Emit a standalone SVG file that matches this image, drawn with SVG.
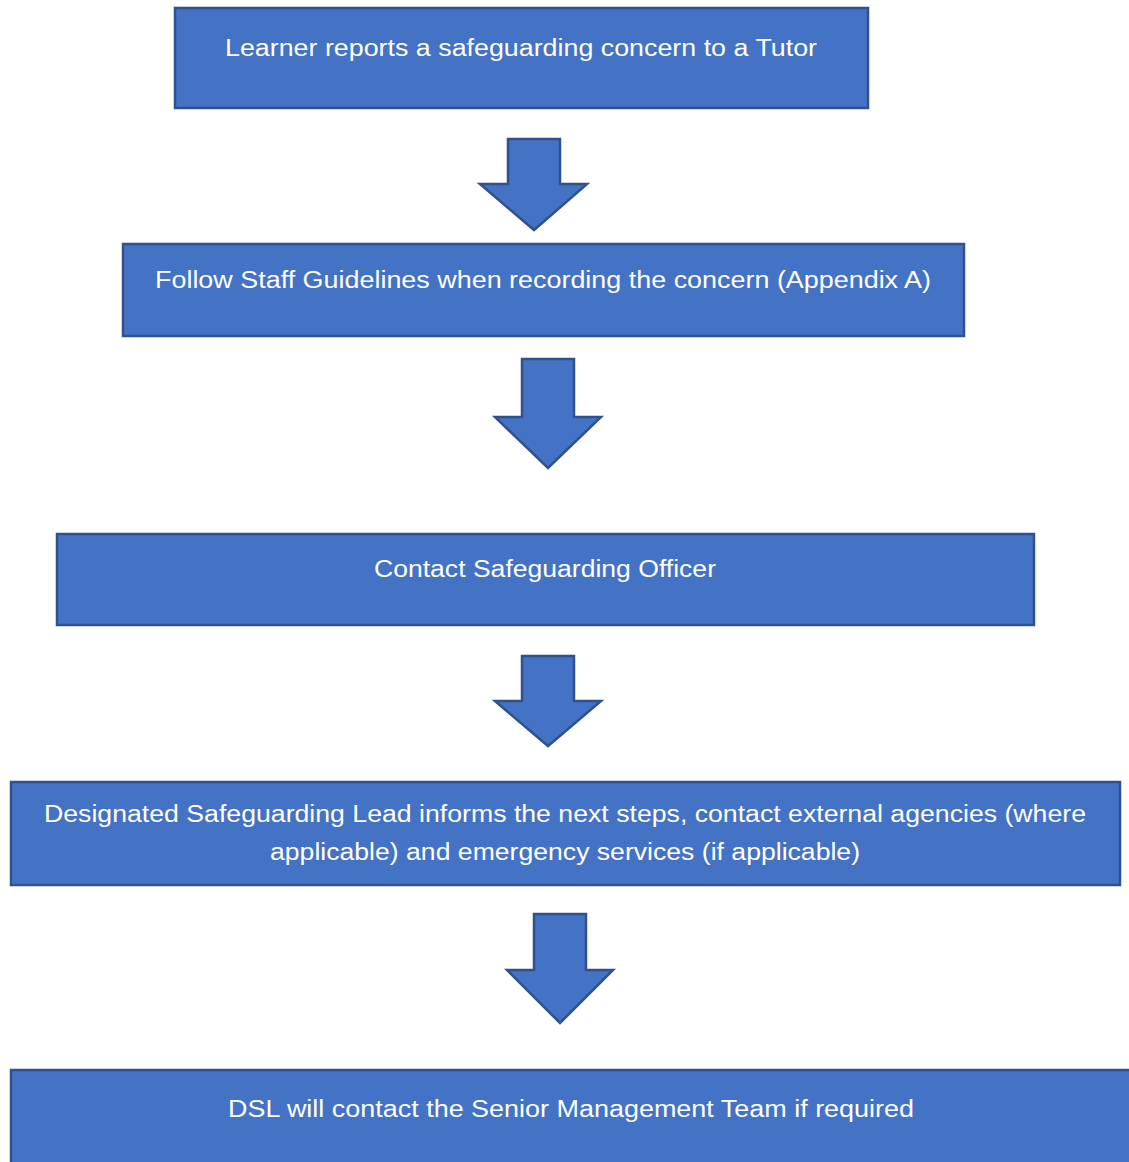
<svg xmlns="http://www.w3.org/2000/svg" width="1129" height="1162" viewBox="0 0 1129 1162">
<style>
.box{fill:#4472C4;stroke:#2F528F;stroke-width:2.5}
.arr{fill:#4472C4;stroke:#2F528F;stroke-width:2.5;stroke-linejoin:miter}
.t{font-family:"Liberation Sans","Noto Sans",sans-serif;font-size:23px;fill:#FFFFFF;text-anchor:middle}
</style>
<rect width="1129" height="1162" fill="#FFFFFF"/>
<g id="connectors">
<polygon class="arr" points="508,139 560,139 560,184 587,184 534,230 480,184 508,184"/>
<polygon class="arr" points="522,359 574,359 574,417 601,417 548,468 495,417 522,417"/>
<polygon class="arr" points="522,656 574,656 574,701 601,701 548,746 495,701 522,701"/>
<polygon class="arr" points="534,914 586,914 586,970 613,970 560,1023 507,970 534,970"/>
</g>
<g id="node1">
<rect class="box" x="175" y="8" width="693" height="100"/>
<text class="t" x="521" y="56" textLength="592" lengthAdjust="spacingAndGlyphs">Learner reports a safeguarding concern to a Tutor</text>
</g>
<g id="node2">
<rect class="box" x="123" y="244" width="841" height="92"/>
<text class="t" x="543" y="288" textLength="776" lengthAdjust="spacingAndGlyphs">Follow Staff Guidelines when recording the concern (Appendix A)</text>
</g>
<g id="node3">
<rect class="box" x="57" y="534" width="977" height="91"/>
<text class="t" x="545" y="577" textLength="342" lengthAdjust="spacingAndGlyphs">Contact Safeguarding Officer</text>
</g>
<g id="node4">
<rect class="box" x="11" y="782" width="1109" height="103"/>
<text class="t" x="565" y="822" textLength="1042" lengthAdjust="spacingAndGlyphs">Designated Safeguarding Lead informs the next steps, contact external agencies (where</text>
<text class="t" x="565" y="860" textLength="590" lengthAdjust="spacingAndGlyphs">applicable) and emergency services (if applicable)</text>
</g>
<g id="node5">
<rect class="box" x="11" y="1070" width="1125" height="100"/>
<text class="t" x="571" y="1117" textLength="686" lengthAdjust="spacingAndGlyphs">DSL will contact the Senior Management Team if required</text>
</g>
</svg>
